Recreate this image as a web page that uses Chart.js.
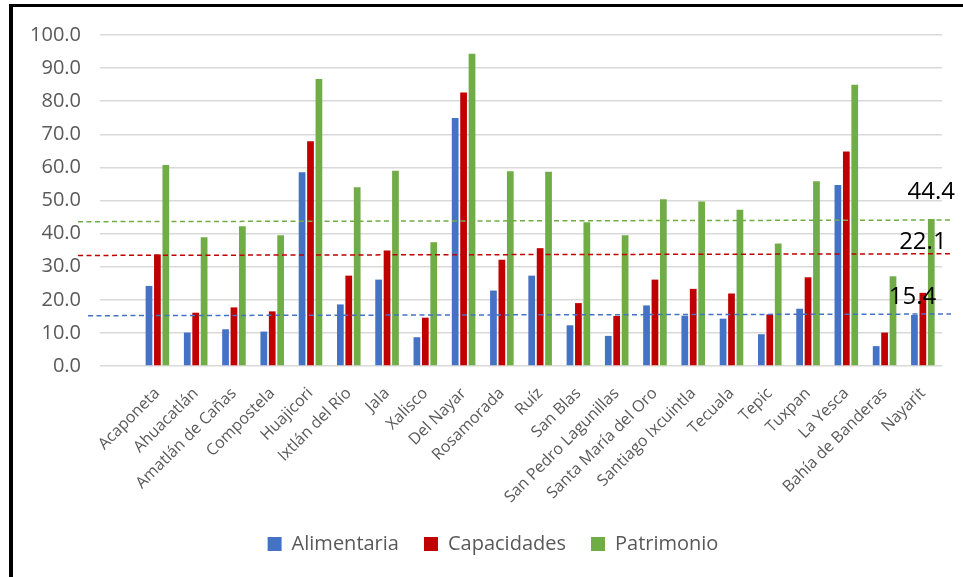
<!DOCTYPE html>
<html lang="es">
<head>
<meta charset="utf-8">
<title>Pobreza por ingresos en Nayarit</title>
<script src="https://cdn.jsdelivr.net/npm/chart.js@4.4.1/dist/chart.umd.min.js"></script>
<style>
  html, body { margin: 0; padding: 0; background: #ffffff; }
  #wrap { position: relative; width: 963px; height: 577px; overflow: hidden; }
  #frame { position: absolute; left: 9px; top: 4px; width: 980px; height: 600px;
           border-top: 3px solid #000; border-left: 4px solid #000; box-sizing: border-box; pointer-events: none; }
  #c { position: absolute; left: 0; top: 0; }
</style>
</head>
<body>
<div id="wrap">
  <canvas id="c" width="963" height="577"></canvas>
  <div id="frame"></div>
</div>
<script>
// Municipios de Nayarit y total estatal
const categories = [
  'Acaponeta', 'Ahuacatlán', 'Amatlán de Cañas', 'Compostela', 'Huajicori',
  'Ixtlán del Río', 'Jala', 'Xalisco', 'Del Nayar', 'Rosamorada', 'Ruíz',
  'San Blas', 'San Pedro Lagunillas', 'Santa María del Oro', 'Santiago Ixcuintla',
  'Tecuala', 'Tepic', 'Tuxpan', 'La Yesca', 'Bahía de Banderas', 'Nayarit'
];

// Porcentaje de población en cada tipo de pobreza
const alimentaria = [24.2, 10.1, 11.1, 10.4, 58.5, 18.6, 26.1, 8.7, 74.9, 22.8, 27.3,
                     12.3, 9.1, 18.3, 15.2, 14.3, 9.6, 17.3, 54.7, 6.0, 15.4];
const capacidades = [33.7, 16.1, 17.7, 16.5, 67.9, 27.3, 34.9, 14.6, 82.6, 32.1, 35.6,
                     19.0, 15.1, 26.1, 23.3, 21.9, 15.6, 26.8, 64.8, 10.1, 22.1];
const patrimonio  = [60.7, 38.9, 42.2, 39.5, 86.7, 54.0, 59.0, 37.4, 94.3, 58.8, 58.7,
                     43.4, 39.5, 50.4, 49.7, 47.2, 37.0, 55.8, 85.0, 27.1, 44.4];

// Líneas de referencia punteadas (valor al inicio y al final del trazo)
const refStart = [15.2, 33.4, 43.6];
const refEnd   = [15.7, 33.9, 44.1];

const yTicks = [0, 10, 20, 30, 40, 50, 60, 70, 80, 90, 100];

const seriesNames  = ['Alimentaria', 'Capacidades', 'Patrimonio'];
const seriesColors = ['#4472C4', '#C00000', '#70AD47'];

// Primera categoría vacía, como en la hoja original
const labels = [''].concat(categories);
const withGap = arr => [null].concat(arr);

const FONT = "'Open Sans', 'DejaVu Sans', sans-serif";
const GREY = '#595959';

// Líneas punteadas de referencia, encima de las barras
const refLinesPlugin = {
  id: 'refLines',
  afterDatasetsDraw(chart) {
    const { ctx, chartArea, scales: { y } } = chart;
    const starts = [chartArea.left - 12, chartArea.left - 22, chartArea.left - 22];
    ctx.save();
    ctx.lineWidth = 1.5;
    ctx.setLineDash([5, 3.5]);
    refStart.forEach((v, i) => {
      ctx.strokeStyle = seriesColors[i];
      ctx.beginPath();
      ctx.moveTo(starts[i], y.getPixelForValue(v));
      ctx.lineTo(chartArea.right + 9, y.getPixelForValue(refEnd[i]));
      ctx.stroke();
    });
    ctx.restore();
  }
};

// Etiquetas de valor para el total estatal (última categoría)
const stateLabelsPlugin = {
  id: 'stateLabels',
  afterDatasetsDraw(chart) {
    const { ctx } = chart;
    const idx = labels.length - 1;
    const lift = [18, 51, 27];
    const shift = [-2, 0, 0];
    ctx.save();
    ctx.font = "24px " + FONT;
    ctx.fillStyle = '#000000';
    ctx.textAlign = 'center';
    ctx.textBaseline = 'middle';
    chart.data.datasets.forEach((ds, i) => {
      const bar = chart.getDatasetMeta(i).data[idx];
      ctx.fillText(ds.data[idx].toFixed(1), bar.x + shift[i], bar.y - lift[i]);
    });
    ctx.restore();
  }
};

// Centra la leyenda bajo la zona de barras
const legendSpanPlugin = {
  id: 'legendSpan',
  afterLayout(chart) {
    const lg = chart.legend;
    if (lg) { lg.left = 44; lg.right = chart.chartArea.right; lg.width = lg.right - lg.left; }
  }
};

new Chart(document.getElementById('c'), {
  type: 'bar',
  data: {
    labels: labels,
    datasets: [alimentaria, capacidades, patrimonio].map((vals, i) => ({
      label: seriesNames[i],
      data: withGap(vals),
      backgroundColor: seriesColors[i],
      borderWidth: 0,
      categoryPercentage: 0.66,
      barPercentage: 0.8
    }))
  },
  options: {
    responsive: false,
    animation: false,
    layout: { padding: { top: 35, right: 21, left: 0, bottom: 13 } },
    plugins: {
      legend: {
        position: 'bottom',
        labels: {
          boxWidth: 14,
          boxHeight: 14,
          padding: 25,
          color: GREY,
          font: { family: FONT, size: 20 }
        }
      },
      tooltip: { enabled: false },
      title: { display: false }
    },
    scales: {
      x: {
        grid: { display: false },
        border: { display: false },
        ticks: {
          autoSkip: false,
          minRotation: 45,
          maxRotation: 45,
          padding: 10,
          color: GREY,
          font: { family: FONT, size: 16 }
        },
        afterFit(scale) { scale.height = 143; }
      },
      y: {
        min: 0,
        max: 100,
        border: { display: false },
        grid: { color: '#d9d9d9', lineWidth: 1.5, drawTicks: false },
        afterBuildTicks(scale) { scale.ticks = yTicks.map(v => ({ value: v })); },
        afterFit(scale) { scale.width = 100; },
        ticks: {
          padding: 19,
          color: GREY,
          font: { family: FONT, size: 20 },
          callback: v => Number(v).toFixed(1)
        }
      }
    }
  },
  plugins: [refLinesPlugin, stateLabelsPlugin, legendSpanPlugin]
});
</script>
</body>
</html>
